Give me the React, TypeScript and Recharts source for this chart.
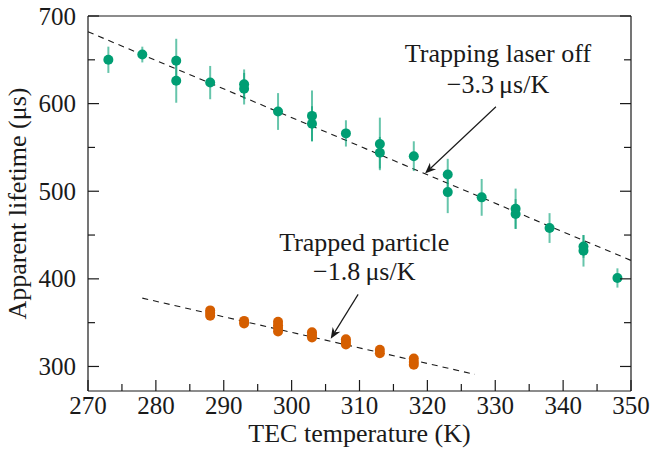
import React from 'react';
import {
  ComposedChart, Scatter, XAxis, YAxis, ErrorBar, ReferenceLine, ReferenceDot
} from 'recharts';

// Trapping laser off (green)
const laserOffTemp = [273, 278, 283, 283, 288, 293, 293, 298, 303, 303, 308, 313, 313, 318, 323, 323, 328, 333, 333, 338, 343, 343, 348];
const laserOffLife = [650, 656, 649, 626, 624, 622, 617, 591, 586, 577, 566, 554, 544, 540, 519, 499, 493, 480, 474, 458, 437, 432, 401];
const laserOffErr = [15, 9, 25, 25, 19, 17, 18, 21, 29, 20, 15, 30, 18, 17, 18, 24, 21, 23, 17, 17, 13, 18, 11];

// Trapped particle (orange)
const trappedTemp = [288, 288, 288, 293, 293, 298, 298, 298, 298, 303, 303, 303, 308, 308, 308, 313, 313, 318, 318, 318];
const trappedLife = [364, 361, 358, 352, 349, 351, 347, 344, 340, 339, 336, 333, 331, 328, 325, 319, 315, 309, 305, 302];
const trappedErr = [2, 2, 2, 2, 2, 2, 2, 2, 2, 2, 2, 2, 2, 2, 2, 2, 2, 2, 2, 2];

// linear fits (endpoints)
const laserOffFitTemp = [270, 350];
const laserOffFitLife = [682, 421];
const trappedFitTemp = [278, 327];
const trappedFitLife = [378, 291];

const xMajorTicks = [270, 280, 290, 300, 310, 320, 330, 340, 350];
const xMinorTicks = [275, 285, 295, 305, 315, 325, 335, 345];
const yMajorTicks = [300, 400, 500, 600, 700];
const yMinorTicks = [350, 450, 550, 650];

const GREEN = '#009E73';
const ORANGE = '#D55E00';
const INK = '#1a1a1a';
const FONT = '"Liberation Serif", "Times New Roman", serif';

const laserOffData = laserOffTemp.map((t, i) => ({ t, life: laserOffLife[i], err: laserOffErr[i] }));
const trappedData = trappedTemp.map((t, i) => ({ t, life: trappedLife[i], err: trappedErr[i] }));
const xTicks = [...xMajorTicks, ...xMinorTicks].sort((a, b) => a - b);
const yTicks = [...yMajorTicks, ...yMinorTicks].sort((a, b) => a - b);

const MAJOR = 11;
const MINOR = 7;
const MARGIN = 4;

const BottomTick = (props: any) => {
  const { x, y, payload } = props;
  const major = xMajorTicks.includes(payload.value);
  const y0 = y - MARGIN;
  return (
    <g>
      <line x1={x} x2={x} y1={y0} y2={y0 - (major ? MAJOR : MINOR)} stroke={INK} strokeWidth={1.2} />
      {major && (
        <text x={x} y={y0 + 23} textAnchor="middle" fontSize={25} fontFamily={FONT} fill={INK}>
          {payload.value}
        </text>
      )}
    </g>
  );
};

const LeftTick = (props: any) => {
  const { x, y, payload } = props;
  const major = yMajorTicks.includes(payload.value);
  const x0 = x + MARGIN;
  return (
    <g>
      <line x1={x0} x2={x0 + (major ? MAJOR : MINOR)} y1={y} y2={y} stroke={INK} strokeWidth={1.2} />
      {major && (
        <text x={x0 - 12} y={y + 8.5} textAnchor="end" fontSize={25} fontFamily={FONT} fill={INK}>
          {payload.value}
        </text>
      )}
    </g>
  );
};

const TopTick = (props: any) => {
  const { x, y, payload } = props;
  const major = xMajorTicks.includes(payload.value);
  return <line x1={x} x2={x} y1={y} y2={y + (major ? MAJOR : MINOR)} stroke={INK} strokeWidth={1.2} />;
};

const RightTick = (props: any) => {
  const { x, y, payload } = props;
  const major = yMajorTicks.includes(payload.value);
  return <line x1={x} x2={x - (major ? MAJOR : MINOR)} y1={y} y2={y} stroke={INK} strokeWidth={1.2} />;
};

const Dot = (color: string) => (props: any) => (
  <circle cx={props.cx} cy={props.cy} r={5} fill={color} />
);

const Arrow = (props: any) => {
  const { x1, y1, x2, y2 } = props;
  const ang = Math.atan2(y2 - y1, x2 - x1);
  const len = 11;
  const half = 4.5;
  const bx = x2 - len * Math.cos(ang);
  const by = y2 - len * Math.sin(ang);
  const nx = -Math.sin(ang);
  const ny = Math.cos(ang);
  const notchX = x2 - len * 0.7 * Math.cos(ang);
  const notchY = y2 - len * 0.7 * Math.sin(ang);
  return (
    <g>
      <line x1={x1} y1={y1} x2={notchX} y2={notchY} stroke={INK} strokeWidth={1.2} />
      <polygon
        points={`${x2},${y2} ${bx + half * nx},${by + half * ny} ${notchX},${notchY} ${bx - half * nx},${by - half * ny}`}
        fill={INK}
      />
    </g>
  );
};

const Note = (text: string) => (props: any) => (
  <text x={props.cx} y={props.cy} textAnchor="middle" fontSize={26} fontFamily={FONT} fill={INK}>
    {text}
  </text>
);

const YLabel = (props: any) => {
  const vb = props.viewBox || { x: 28, y: 16, width: 60, height: 375 };
  const cx = vb.x - 2;
  const cy = vb.y + vb.height / 2;
  return (
    <text x={cx} y={cy} transform={`rotate(-90, ${cx}, ${cy})`} textAnchor="middle" fontSize={26} fontFamily={FONT} fill={INK}>
      Apparent lifetime (μs)
    </text>
  );
};

const XLabel = (props: any) => {
  const vb = props.viewBox || { x: 88, y: 391, width: 543, height: 58 };
  return (
    <text x={vb.x + vb.width / 2} y={vb.y + 51} textAnchor="middle" fontSize={26} fontFamily={FONT} fill={INK}>
      TEC temperature (K)
    </text>
  );
};

export default function App() {
  return (
    <div style={{ position: 'absolute', left: 0, top: 0, background: '#fff' }}>
      <ComposedChart width={654} height={449} margin={{ top: 15, right: 22, bottom: 0, left: 28 }}>
        <XAxis
          dataKey="t" type="number" domain={[270, 350]} ticks={xTicks} interval={0}
          allowDataOverflow height={58} tickSize={0} tickMargin={MARGIN} tick={BottomTick}
          axisLine={{ stroke: INK, strokeWidth: 1.2 }} label={XLabel}
        />
        <XAxis
          xAxisId="top" orientation="top" type="number" domain={[270, 350]} ticks={xTicks} interval={0}
          allowDataOverflow height={1} tickSize={0} tickMargin={0} tick={TopTick}
          axisLine={{ stroke: INK, strokeWidth: 1.2 }}
        />
        <YAxis
          dataKey="life" type="number" domain={[272, 700]} ticks={yTicks} interval={0}
          allowDataOverflow width={60} tickSize={0} tickMargin={MARGIN} tick={LeftTick}
          axisLine={{ stroke: INK, strokeWidth: 1.2 }} label={YLabel}
        />
        <YAxis
          yAxisId="right" orientation="right" type="number" domain={[272, 700]} ticks={yTicks} interval={0}
          allowDataOverflow width={1} tickSize={0} tickMargin={0} tick={RightTick}
          axisLine={{ stroke: INK, strokeWidth: 1.2 }}
        />

        <ReferenceLine
          segment={[{ x: laserOffFitTemp[0], y: laserOffFitLife[0] }, { x: laserOffFitTemp[1], y: laserOffFitLife[1] }]}
          stroke={INK} strokeWidth={1.1} strokeDasharray="6 5"
        />
        <ReferenceLine
          segment={[{ x: trappedFitTemp[0], y: trappedFitLife[0] }, { x: trappedFitTemp[1], y: trappedFitLife[1] }]}
          stroke={INK} strokeWidth={1.1} strokeDasharray="6 5"
        />

        <Scatter data={laserOffData} shape={Dot(GREEN)} isAnimationActive={false}>
          <ErrorBar dataKey="err" direction="y" width={0} strokeWidth={2} stroke={GREEN} strokeOpacity={0.6} />
        </Scatter>
        <Scatter data={trappedData} shape={Dot(ORANGE)} isAnimationActive={false}>
          <ErrorBar dataKey="err" direction="y" width={0} strokeWidth={2} stroke={ORANGE} strokeOpacity={0.6} />
        </Scatter>

        <ReferenceLine segment={[{ x: 330.1, y: 596.4 }, { x: 319.65, y: 520.2 }]} shape={Arrow} />
        <ReferenceLine segment={[{ x: 309.8, y: 382.3 }, { x: 305.76, y: 331.7 }]} shape={Arrow} />

        <ReferenceDot x={330.4} y={647.5} r={0} shape={Note('Trapping laser off')} />
        <ReferenceDot x={330.4} y={612.6} r={0} shape={Note('−3.3\u2009μs/K')} />
        <ReferenceDot x={310.7} y={431.4} r={0} shape={Note('Trapped particle')} />
        <ReferenceDot x={310.7} y={398.3} r={0} shape={Note('−1.8\u2009μs/K')} />
      </ComposedChart>
    </div>
  );
}
